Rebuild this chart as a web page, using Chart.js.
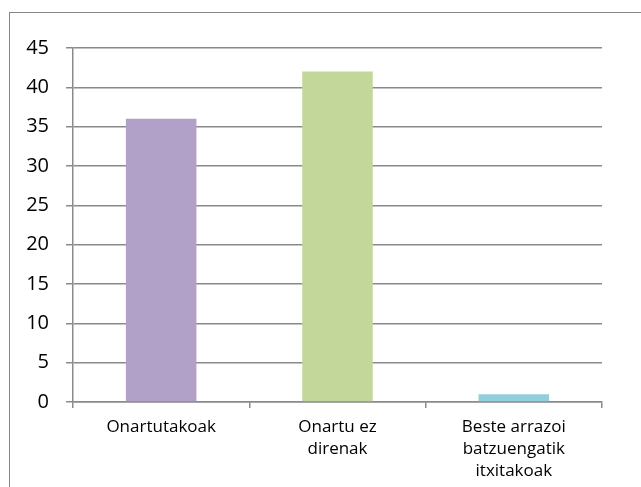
<!DOCTYPE html>
<html>
<head>
<meta charset="utf-8">
<script src="https://cdn.jsdelivr.net/npm/chart.js@4"></script>
<style>
  html, body { margin: 0; padding: 0; background: #fff; overflow: hidden; }
  #wrap { position: relative; width: 641px; height: 487px; }
  #frame {
    position: absolute; left: 9px; top: 12px; width: 700px; height: 600px;
    border: 1.5px solid #878787; pointer-events: none;
  }
</style>
</head>
<body>
<div id="wrap">
  <canvas id="chart" width="641" height="487"></canvas>
  <div id="frame"></div>
</div>
<script>
// categories and values
const categories = [
  'Onartutakoak',
  ['Onartu ez', 'direnak'],
  ['Beste arrazoi', 'batzuengatik', 'itxitakoak']
];
const values = [36, 42, 1];
const yMin = 0;
const yMax = 45;
const yStep = 5;

const barColors = ['#b1a0c7', '#c4d79b', '#92cddc'];
const lineGray = '#8a8a8a';

const canvas = document.getElementById('chart');

new Chart(canvas, {
  type: 'bar',
  data: {
    labels: categories,
    datasets: [{
      data: values,
      backgroundColor: barColors,
      borderWidth: 0,
      categoryPercentage: 1,
      barPercentage: 0.4
    }]
  },
  options: {
    responsive: false,
    animation: false,
    layout: { padding: { top: 48, right: 39, left: 0, bottom: 0 } },
    plugins: {
      legend: { display: false },
      tooltip: { enabled: false }
    },
    scales: {
      x: {
        offset: true,
        grid: {
          offset: true,
          drawOnChartArea: false,
          drawTicks: true,
          tickLength: 6,
          color: lineGray,
          lineWidth: 1.5
        },
        border: { display: true, color: lineGray, width: 1.5 },
        ticks: {
          color: '#000',
          padding: 8,
          maxRotation: 0,
          autoSkip: false,
          font: { family: 'Open Sans', size: 17, lineHeight: 1.3 }
        },
        afterFit: function (scale) { scale.height = 85; }
      },
      y: {
        min: yMin,
        max: yMax,
        grid: {
          color: lineGray,
          lineWidth: 1.5,
          drawTicks: true,
          tickLength: 7
        },
        border: { display: true, color: lineGray, width: 1.5 },
        ticks: {
          stepSize: yStep,
          color: '#000',
          padding: 17,
          font: { family: 'Open Sans', size: 20 }
        },
        afterFit: function (scale) { scale.width = 73; }
      }
    }
  }
});
</script>
</body>
</html>
